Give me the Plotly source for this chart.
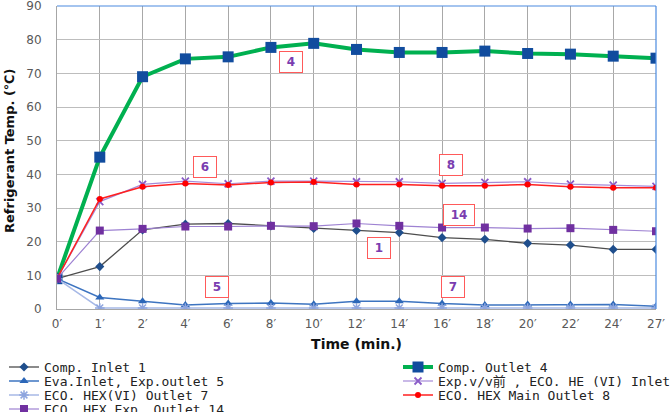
import plotly.graph_objects as go

# ---------------- data ----------------
time_labels = ["0′", "1′", "2′", "4′", "6′", "8′", "10′", "12′", "14′", "16′", "18′", "20′", "22′", "24′", "27′"]

comp_inlet_1 = [9.0, 12.6, 23.5, 25.2, 25.4, 24.7, 23.9, 23.3, 22.7, 21.2, 20.7, 19.5, 19.0, 17.7, 17.7]
comp_outlet_4 = [9.0, 45.1, 69.0, 74.3, 74.9, 77.7, 78.9, 77.1, 76.2, 76.2, 76.6, 75.9, 75.7, 75.1, 74.5]
eva_inlet_5 = [9.0, 3.4, 2.3, 1.2, 1.6, 1.8, 1.4, 2.3, 2.3, 1.6, 1.2, 1.3, 1.3, 1.3, 0.8]
expvv_eco_inlet = [9.0, 31.9, 37.0, 38.0, 37.2, 38.0, 38.0, 37.8, 37.8, 37.3, 37.6, 37.8, 37.1, 36.8, 36.4]
eco_vi_outlet_7 = [9.0, 0.3, 0.3, 0.3, 0.3, 0.3, 0.3, 0.3, 0.3, 0.3, 0.3, 0.3, 0.3, 0.3, 0.3]
eco_main_outlet_8 = [9.0, 32.7, 36.3, 37.3, 36.8, 37.6, 37.7, 37.0, 37.0, 36.6, 36.6, 37.0, 36.3, 36.0, 36.0]
eco_exp_outlet_14 = [9.0, 23.3, 23.8, 24.5, 24.5, 24.7, 24.6, 25.4, 24.7, 24.2, 24.2, 23.9, 24.0, 23.5, 23.1]

series_names = [
    "Comp. Inlet 1",
    "Comp. Outlet 4",
    "Eva.Inlet, Exp.outlet 5",
    "Exp.v/v前 , ECO. HE (VI) Inlet",
    "ECO. HEX(VI) Outlet 7",
    "ECO. HEX Main Outlet 8",
    "ECO. HEX Exp. Outlet 14",
]

# point labels (text, category position, value)
label_texts = ["4", "6", "5", "8", "14", "1", "7"]
label_x = [5.48, 3.47, 3.75, 9.21, 9.40, 7.53, 9.25]
label_y = [73.4, 42.3, 6.5, 42.7, 27.8, 18.1, 6.6]

y_ticks = [0, 10, 20, 30, 40, 50, 60, 70, 80, 90]

FONT = "DejaVu Sans"
LEG_FONT = "DejaVu Sans Mono, Noto Sans CJK KR"
LEG_FS = 13

styles = [
    dict(line=dict(color="#4D4D4D", width=1.3), marker=dict(symbol="diamond", size=7, color="#1F4E8C")),
    dict(line=dict(color="#00B050", width=4), marker=dict(symbol="square", size=11, color="#114C9E")),
    dict(line=dict(color="#3D74C0", width=1.5), marker=dict(symbol="triangle-up", size=8, color="#2C67B8")),
    dict(line=dict(color="#A58AD8", width=1.2), marker=dict(symbol="x-thin", size=7, color="#8A5CC8",
                                                         line=dict(width=1.8, color="#8A5CC8"))),
    dict(line=dict(color="#A7B9E6", width=1.5), marker=dict(symbol="asterisk", size=8, color="#8EA5DE",
                                                         line=dict(width=1.5, color="#8EA5DE"))),
    dict(line=dict(color="#FF2020", width=1.5), marker=dict(symbol="circle", size=6, color="#FF0000")),
    dict(line=dict(color="#9E82D2", width=1.2), marker=dict(symbol="square", size=8, color="#7030A0")),
]

all_series = [comp_inlet_1, comp_outlet_4, eva_inlet_5, expvv_eco_inlet,
              eco_vi_outlet_7, eco_main_outlet_8, eco_exp_outlet_14]

fig = go.Figure()
legend_ids = ["legend", "legend2", "legend3", "legend4", "legend5", "legend6", "legend7"]
for name, vals, st, lid in zip(series_names, all_series, styles, legend_ids):
    fig.add_trace(go.Scatter(
        x=time_labels, y=vals, name=name, mode="lines+markers",
        line=st["line"], marker=st["marker"], legend=lid,
    ))

for t, x, y in zip(label_texts, label_x, label_y):
    fig.add_annotation(
        x=x, y=y, xref="x", yref="y", text="<b>%s</b>" % t, showarrow=False,
        font=dict(family=FONT, size=12, color="#7A3DB0"),
        bgcolor="white", bordercolor="#FF5A5A", borderwidth=1, borderpad=2,
        width=18 if len(t) == 1 else 26, height=16,
    )

W, H = 672, 412
ML, MR, MT, MB = 57, 16, 6, 103
PW, PH = W - ML - MR, H - MT - MB

# y-axis title as a rotated annotation left of the tick labels
fig.add_annotation(
    xref="paper", yref="paper", x=(9 - ML) / PW, y=(H - MB - 151) / PH,
    text="<b>Refrigerant Temp. (℃)</b>", textangle=-90, showarrow=False,
    font=dict(family=FONT, size=13, color="#111111"),
    xanchor="center", yanchor="middle",
)

row_centers = [367, 381, 395, 409]
col_x = [4, 398]
item_center = 5 + (max(1.3 * LEG_FS, 16) + 3) / 2
leg_layout = {}
for i, lid in enumerate(legend_ids):
    r, c = i // 2, i % 2
    leg_layout[lid] = dict(
        xref="container", yref="container",
        x=col_x[c] / W, y=1 - (row_centers[r] - item_center) / H,
        xanchor="left", yanchor="top",
        bgcolor="rgba(0,0,0,0)", borderwidth=0,
        font=dict(family=LEG_FONT, size=LEG_FS, color="#222222"),
        itemclick=False, itemdoubleclick=False,
    )

fig.update_layout(
    width=W, height=H,
    margin=dict(l=ML, r=MR, t=MT, b=MB, autoexpand=False),
    paper_bgcolor="white", plot_bgcolor="white",
    showlegend=True,
    **leg_layout,
)

fig.update_xaxes(
    type="category", range=[0, 14],
    showgrid=True, gridcolor="#A8A8A8", gridwidth=1,
    showline=True, linecolor="#A6A6A6", linewidth=1,
    ticks="", tickfont=dict(family=FONT, size=12, color="#595959"),
    ticklabelstandoff=4, ticklabeloverflow="allow",
    title=dict(text="<b>Time (min.)</b>", font=dict(family=FONT, size=14, color="#111111"), standoff=8),
)
fig.update_yaxes(
    range=[0, 90], tickvals=y_ticks,
    showgrid=True, gridcolor="#BDBDBD", gridwidth=1,
    showline=True, linecolor="#A6A6A6", linewidth=1,
    zeroline=False,
    ticks="", tickfont=dict(family=FONT, size=12, color="#595959"),
    ticklabelstandoff=12, ticklabeloverflow="allow",
)

# blue frame on top and right of the plot area
fig.add_shape(type="line", xref="paper", yref="paper", x0=0, x1=1, y0=1, y1=1,
              line=dict(color="#4A8AE0", width=1.2))
fig.add_shape(type="line", xref="paper", yref="paper", x0=1, x1=1, y0=0, y1=1,
              line=dict(color="#4A8AE0", width=1.2))

fig.write_html("out.html")
